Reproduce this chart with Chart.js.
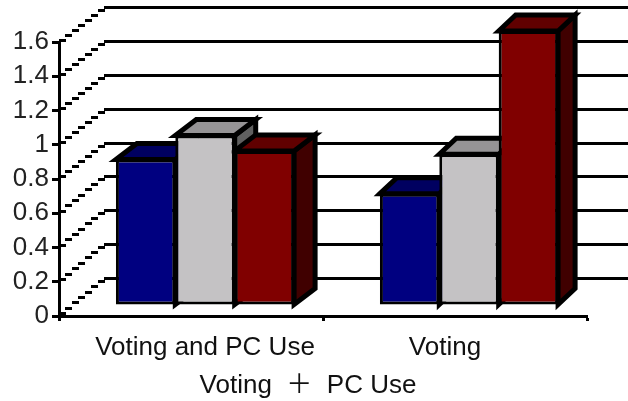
<!DOCTYPE html>
<html>
<head>
<meta charset="utf-8">
<title>Voting + PC Use</title>
<script src="https://cdn.jsdelivr.net/npm/chart.js@4"></script>
<style>
html, body { margin: 0; padding: 0; background: #fff; }
canvas { display: block; }
</style>
</head>
<body>
<canvas id="chart" width="628" height="401"></canvas>
<script>
const categories = ['Voting and PC Use', 'Voting'];
const blueValues = [0.85, 0.65];
const grayValues = [0.99, 0.88];
const redValues = [0.9, 1.6];
const yTickLabels = ['0', '0.2', '0.4', '0.6', '0.8', '1', '1.2', '1.4', '1.6'];
const axisTitle = 'Voting  \uFF0B  PC Use';

const fontFamily = '"Liberation Sans", "Noto Sans CJK SC", sans-serif';

// bars stand in the middle of the floor, so they are pushed off the axis plane
const barShiftX = 14;
const barShiftY = -11;
const depthX = [21, 17];
const depthY = [16, 16];

// back wall of the box, relative to the left axis
const wallLeft = 104;
const wallBottom = 278;
const wallScale = 0.989;

// label centres are not quite on the categories
const labelShift = [14, -10];

function shaded(ctx, points, color) {
    ctx.beginPath();
    points.forEach((p, i) => i ? ctx.lineTo(p[0], p[1]) : ctx.moveTo(p[0], p[1]));
    ctx.closePath();
    ctx.fillStyle = color;
    ctx.fill();
    ctx.strokeStyle = '#000';
    ctx.lineWidth = 5;
    ctx.lineJoin = 'miter';
    ctx.stroke();
}

function drawWalls(chart) {
    const { ctx, scales, chartArea } = chart;
    const bottom = scales.y.getPixelForValue(0);
    ctx.fillStyle = '#000';
    yTickLabels.forEach(label => {
        const front = scales.y.getPixelForValue(Number(label));
        const back = Math.round(wallBottom - (bottom - front) * wallScale);
        ctx.fillRect(wallLeft, back - 1, chart.width - wallLeft, 3);
        // the slanted side wall lines are stepped
        const steps = 7;
        for (let i = 0; i < steps; i++) {
            const x = chartArea.left + (wallLeft - chartArea.left) * i / steps;
            const y = front + (back - front) * (i + 0.5) / steps;
            ctx.fillRect(Math.round(x), Math.round(y) - 1, 7, 3);
        }
    });
}

// tops and sides go first, left to right, the front faces cover what they must
function drawDepthFaces(chart) {
    const { ctx } = chart;
    chart.data.datasets.forEach((dataset, index) => {
        chart.getDatasetMeta(index).data.forEach((bar, i) => {
            const left = bar.x - bar.width / 2;
            const right = bar.x + bar.width / 2;
            const dx = depthX[i];
            const dy = depthY[i];
            shaded(ctx, [[right, bar.y], [right + dx, bar.y - dy], [right + dx, bar.base - dy], [right, bar.base]], dataset.faces[1]);
            shaded(ctx, [[left, bar.y], [left + dx, bar.y - dy], [right + dx, bar.y - dy], [right, bar.y]], dataset.faces[0]);
        });
    });
}

const boxWalls = {
    id: 'boxWalls',
    beforeDatasetsDraw(chart) {
        const { ctx } = chart;
        ctx.save();
        drawWalls(chart);
        ctx.translate(barShiftX, barShiftY);
        drawDepthFaces(chart);
    },
    afterDatasetsDraw(chart) {
        chart.ctx.restore();
    },
    afterDraw(chart) {
        const { ctx, scales } = chart;
        ctx.save();
        ctx.fillStyle = '#111';
        ctx.font = '26px ' + fontFamily;
        ctx.textAlign = 'center';
        ctx.textBaseline = 'alphabetic';
        categories.forEach((name, i) => {
            ctx.fillText(name, scales.x.getPixelForValue(i) + labelShift[i], 355);
        });
        ctx.fillText(axisTitle, 308, 393);
        ctx.restore();
    }
};

new Chart(document.getElementById('chart'), {
    type: 'bar',
    data: {
        labels: categories,
        datasets: [
            { data: blueValues, backgroundColor: '#000080', faces: ['#000060', '#000040'] },
            { data: grayValues, backgroundColor: '#c4c2c4', faces: ['#969496', '#606060'] },
            { data: redValues, backgroundColor: '#800000', faces: ['#600000', '#400000'] }
        ].map(d => ({ ...d, borderColor: '#000', borderWidth: 3, borderSkipped: false, clip: false }))
    },
    options: {
        responsive: false,
        animation: false,
        events: [],
        categoryPercentage: 0.675,
        barPercentage: 1,
        layout: { padding: { top: 42, right: 41 } },
        plugins: { legend: { display: false }, tooltip: { enabled: false } },
        scales: {
            x: {
                afterFit(scale) { scale.height = 85; },
                grid: { drawOnChartArea: false, offset: true, tickLength: 5, tickWidth: 3, tickColor: '#000' },
                border: { color: '#000', width: 3 },
                ticks: { display: false }
            },
            y: {
                min: 0,
                max: 1.6,
                afterFit(scale) { scale.width = 59; },
                grid: { drawOnChartArea: false, tickLength: 7, tickWidth: 3, tickColor: '#000' },
                border: { color: '#000', width: 3 },
                ticks: {
                    stepSize: 0.2,
                    padding: 3,
                    color: '#222',
                    font: { family: fontFamily, size: 26 },
                    callback: (value, index) => yTickLabels[index]
                }
            }
        }
    },
    plugins: [boxWalls]
});
</script>
</body>
</html>
